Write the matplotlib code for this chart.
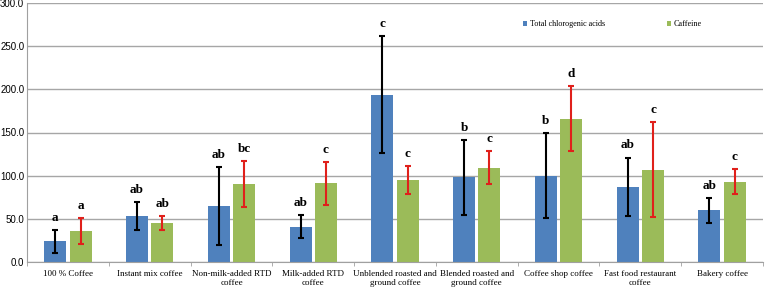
import numpy as np
import matplotlib.pyplot as plt

# 데이터
categories = ['100 % Coffee', 'Instant mix coffee', 'Non-milk-added RTD\ncoffee',
              'Milk-added RTD\ncoffee', 'Unblended roasted and\nground coffee',
              'Blended roasted and\nground coffee', 'Coffee shop coffee',
              'Fast food restaurant\ncoffee', 'Bakery coffee']
cga = [24, 53, 65, 41, 194, 98, 100, 87, 60]
cga_err = [13, 16, 45, 13, 68, 43.5, 49, 34, 14.5]
caffeine = [36, 45, 90, 91, 95, 109, 166, 107, 93]
caffeine_err = [15, 8, 26.5, 25, 16, 19, 38, 55, 14.5]
cga_letters = ['a', 'ab', 'ab', 'ab', 'c', 'b', 'b', 'ab', 'ab']
caffeine_letters = ['a', 'ab', 'bc', 'c', 'c', 'c', 'd', 'c', 'c']

plt.rcParams['font.family'] = ['Liberation Serif', 'DejaVu Serif']

fig = plt.figure(figsize=(7.65, 2.87), dpi=100)
ax = fig.add_axes([27 / 765, 25 / 287, 736 / 765, 259 / 287])

x = np.arange(len(categories))
w = 0.27
off = 0.155

ax.bar(x - off, cga, w, color='#4F81BD', label='Total chlorogenic acids', zorder=2)
ax.bar(x + off, caffeine, w, color='#9BBB59', label='Caffeine', zorder=2)
ax.errorbar(x - off, cga, yerr=cga_err, fmt='none', ecolor='black',
            elinewidth=1.5, capsize=2.5, capthick=1.5, zorder=3)
ax.errorbar(x + off, caffeine, yerr=caffeine_err, fmt='none', ecolor='#E0201B',
            elinewidth=1.5, capsize=2.5, capthick=1.5, zorder=3)

# 유의성 문자
for i in range(len(categories)):
    ax.text(x[i] - off, cga[i] + cga_err[i] + 7, cga_letters[i], ha='center',
            va='bottom', fontsize=9.5, fontweight='bold')
    ax.text(x[i] + off, caffeine[i] + caffeine_err[i] + 7, caffeine_letters[i],
            ha='center', va='bottom', fontsize=9.5, fontweight='bold')

ax.set_xlim(-0.5, len(categories) - 0.5)
ax.set_ylim(0, 300)
ax.set_yticks(np.arange(0, 301, 50))
ax.set_yticklabels([f'{v:.1f}' for v in np.arange(0, 301, 50)], fontsize=7,
                   family=['Liberation Sans', 'DejaVu Sans'])
ax.set_xticks(x)
ax.set_xticklabels(categories, fontsize=6.5, linespacing=1.1)
ax.tick_params(axis='x', length=0, pad=6)
ax.tick_params(axis='y', length=0, pad=2)
ax.set_xticks(np.arange(-0.5, len(categories), 1), minor=True)
ax.tick_params(axis='x', which='minor', length=3, color='#A0A0A0')

ax.yaxis.grid(True, color='#A6A6A6', linewidth=1)
ax.set_axisbelow(True)
for s in ['top', 'right']:
    ax.spines[s].set_visible(False)
ax.spines['left'].set_color('#A0A0A0')
ax.spines['bottom'].set_color('#A0A0A0')

ax.legend(loc='upper left', bbox_to_anchor=(0.664, 0.962), ncol=2, frameon=False,
          fontsize=5.9, handlelength=0.5, handleheight=0.5, columnspacing=7.6,
          handletextpad=0.3)

fig.savefig('out.png', dpi=100)
